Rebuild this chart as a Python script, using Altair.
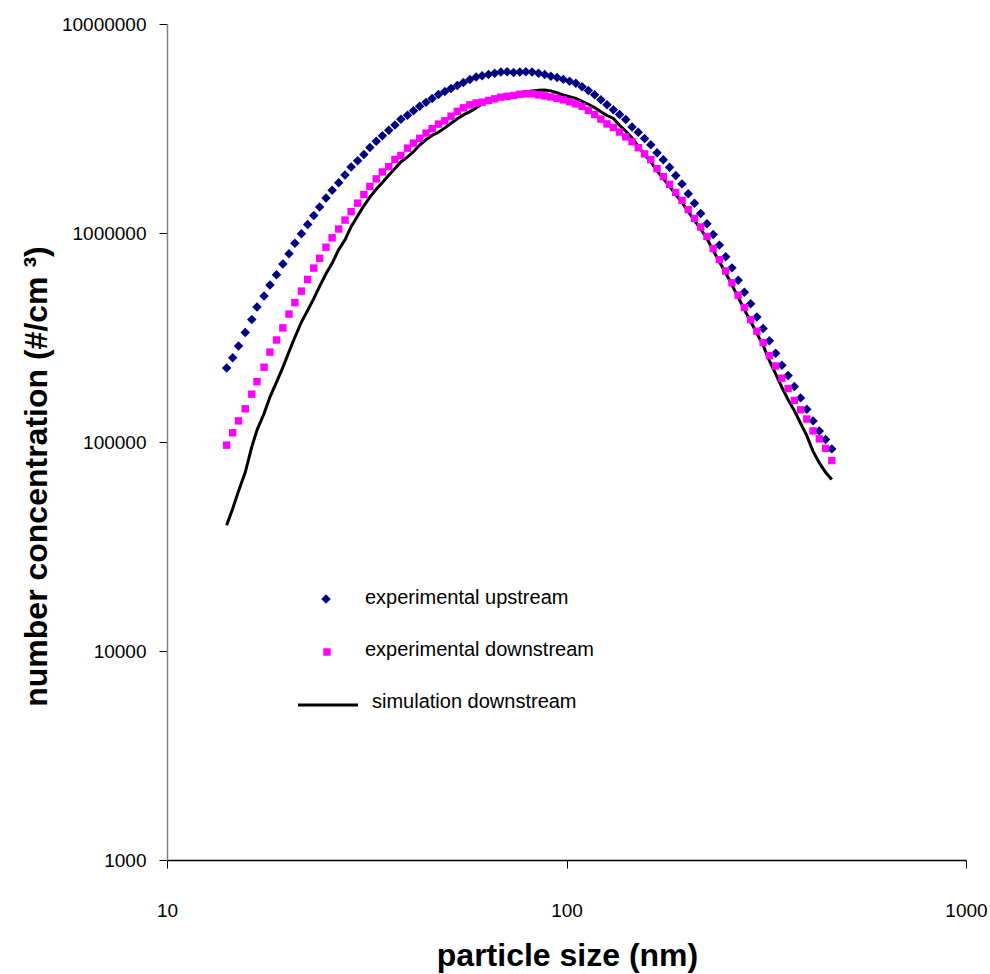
import altair as alt
import pandas as pd

# SMPS channel mid-point diameters (nm)
particle_size = [
    14.1, 14.6, 15.1, 15.7, 16.3, 16.8, 17.5, 18.1, 18.8, 19.5,
    20.2, 20.9, 21.7, 22.5, 23.3, 24.1, 25.0, 25.9, 26.9, 27.9,
    28.9, 30.0, 31.1, 32.2, 33.4, 34.6, 35.9, 37.2, 38.5, 40.0,
    41.4, 42.9, 44.5, 46.1, 47.8, 49.6, 51.4, 53.3, 55.2, 57.3,
    59.4, 61.5, 63.8, 66.1, 68.5, 71.0, 73.7, 76.4, 79.1, 82.0,
    85.1, 88.2, 91.4, 94.7, 98.2, 101.8, 105.5, 109.4, 113.4, 117.6,
    121.9, 126.3, 131.0, 135.8, 140.7, 145.9, 151.2, 156.8, 162.5, 168.5,
    174.7, 181.1, 187.7, 194.6, 201.7, 209.1, 216.7, 224.7, 232.9, 241.4,
    250.3, 259.5, 269.0, 278.8, 289.0, 299.6, 310.6, 322.0, 333.8, 346.0,
    358.7, 371.8, 385.4, 399.5, 414.2, 429.4, 445.1, 461.4,
]

# number concentration (#/cm3), experimental upstream
upstream = [
    226000, 253000, 288000, 334000, 386000, 443000, 499000, 564000, 632000, 711000,
    796000, 893000, 993000, 1099000, 1213000, 1330000, 1472000, 1600000, 1738000, 1897000,
    2070000, 2218000, 2377000, 2564000, 2748000, 2917000, 3105000, 3289000, 3499000, 3656000,
    3846000, 4036000, 4217000, 4406000, 4603000, 4753000, 4909000, 5082000, 5248000, 5420000,
    5572000, 5649000, 5728000, 5808000, 5888000, 5916000, 5861000, 5888000, 5916000, 5888000,
    5808000, 5728000, 5623000, 5546000, 5433000, 5321000, 5212000, 5012000, 4808000, 4581000,
    4345000, 4111000, 3890000, 3690000, 3491000, 3214000, 3034000, 2831000, 2642000, 2421000,
    2239000, 2061000, 1884000, 1718000, 1542000, 1387000, 1239000, 1107000, 984000, 875000,
    769000, 681000, 594000, 520000, 459000, 396000, 349000, 305000, 266000, 233000,
    208000, 184500, 162600, 143500, 126200, 113000, 102800, 92700,
]

# number concentration (#/cm3), experimental downstream
downstream = [
    96600, 110700, 126200, 144200, 169400, 194500, 228000, 269200, 307600, 351600,
    409300, 464500, 527200, 599800, 679200, 756800, 855100, 948400, 1045000, 1153000,
    1265000, 1390000, 1528000, 1671000, 1816000, 1959000, 2080000, 2249000, 2350000, 2547000,
    2692000, 2838000, 3006000, 3155000, 3319000, 3443000, 3622000, 3819000, 3972000, 4102000,
    4188000, 4227000, 4305000, 4385000, 4467000, 4508000, 4550000, 4613000, 4634000, 4634000,
    4581000, 4529000, 4477000, 4406000, 4335000, 4246000, 4150000, 4036000, 3864000, 3690000,
    3508000, 3327000, 3199000, 3041000, 2884000, 2735000, 2559000, 2393000, 2244000, 2032000,
    1862000, 1710000, 1563000, 1432000, 1294000, 1175000, 1069000, 962000, 843000, 746000,
    658000, 578000, 504000, 440000, 385000, 339000, 299000, 259000, 231000, 202000,
    180300, 158100, 142600, 128800, 113000, 103500, 93300, 81500,
]

# number concentration (#/cm3), simulation downstream
simulation = [
    40000, 47900, 58200, 71600, 94800, 114000, 136800, 164100, 193200, 227500,
    270400, 317000, 375000, 426600, 485300, 555900, 638300, 716100, 831800, 926800,
    1072000, 1205000, 1349000, 1486000, 1618000, 1746000, 1888000, 2037000, 2188000, 2312000,
    2449000, 2636000, 2793000, 2931000, 3034000, 3184000, 3350000, 3524000, 3673000, 3811000,
    3963000, 4150000, 4256000, 4375000, 4467000, 4550000, 4613000, 4677000, 4742000, 4786000,
    4819000, 4831000, 4786000, 4688000, 4571000, 4487000, 4406000, 4266000, 4130000, 3981000,
    3802000, 3648000, 3532000, 3273000, 3076000, 2851000, 2600000, 2371000, 2193000, 1986000,
    1820000, 1671000, 1528000, 1400000, 1265000, 1148000, 1045000, 940000, 824000, 729000,
    643000, 565000, 492000, 430000, 377000, 331000, 290000, 245000, 212000, 182800,
    159200, 141300, 123000, 107200, 90200, 79400, 71600, 66100,
]

series_names = ["experimental upstream", "experimental downstream", "simulation downstream"]
x_ticks = [10, 100, 1000]
y_ticks = [1000, 10000, 100000, 1000000, 10000000]

NAVY = "#000080"
MAGENTA = "#FF00FF"
FONT = "Liberation Sans"

df_up = pd.DataFrame({"size": particle_size, "value": upstream})
df_down = pd.DataFrame({"size": particle_size, "value": downstream})
df_sim = pd.DataFrame({"size": particle_size, "value": simulation})

x_scale = alt.Scale(type="log", domain=[10, 1000], nice=False)
y_scale = alt.Scale(type="log", domain=[1000, 10000000], nice=False)

x_axis = alt.Axis(
    values=x_ticks, format="d", grid=False, title="particle size (nm)",
    tickSize=8, tickColor="black", domainColor="black", domainWidth=1.5,
    labelFont=FONT, labelFontSize=19, labelColor="black", labelPadding=33,
    labelFlush=False,
    titleFont=FONT, titleFontSize=32, titleFontWeight="bold", titleColor="black",
    titleX=400, titleY=95, titleBaseline="middle", titleAlign="center",
)
y_axis = alt.Axis(
    values=y_ticks, format="d", grid=False, title="number concentration (#/cm ³)",
    tickSize=8, tickColor="black", domainColor="#808080", domainWidth=1.5,
    labelFont=FONT, labelFontSize=19, labelColor="black", labelPadding=13,
    labelFlush=False,
    titleFont=FONT, titleFontSize=32, titleFontWeight="bold", titleColor="black",
    titleX=-131, titleY=452, titleAngle=270, titleAlign="center", titleBaseline="middle",
)

sim_line = alt.Chart(df_sim).mark_line(color="black", strokeWidth=3).encode(
    x=alt.X("size:Q", scale=x_scale, axis=x_axis),
    y=alt.Y("value:Q", scale=y_scale, axis=y_axis),
)
up_pts = alt.Chart(df_up).mark_point(
    shape="diamond", filled=True, size=90, color=NAVY, opacity=1
).encode(x=alt.X("size:Q", scale=x_scale), y=alt.Y("value:Q", scale=y_scale))
down_pts = alt.Chart(df_down).mark_point(
    shape="square", filled=True, size=55, color=MAGENTA, opacity=1
).encode(x=alt.X("size:Q", scale=x_scale), y=alt.Y("value:Q", scale=y_scale))

# hand-made legend, placed inside the plot area (pixel layout)
one = pd.DataFrame({"label": series_names})
leg_font = dict(font=FONT, fontSize=20, color="black", align="left", baseline="middle")
leg_up_sym = alt.Chart(one.iloc[[0]]).mark_point(
    shape="diamond", filled=True, size=90, color=NAVY, opacity=1
).encode(x=alt.value(159), y=alt.value(575))
leg_up_txt = alt.Chart(one.iloc[[0]]).mark_text(**leg_font).encode(
    x=alt.value(198), y=alt.value(574), text="label:N")
leg_down_sym = alt.Chart(one.iloc[[1]]).mark_point(
    shape="square", filled=True, size=55, color=MAGENTA, opacity=1
).encode(x=alt.value(160), y=alt.value(628))
leg_down_txt = alt.Chart(one.iloc[[1]]).mark_text(**leg_font).encode(
    x=alt.value(198), y=alt.value(626), text="label:N")
leg_sim_sym = alt.Chart(one.iloc[[2]]).mark_rule(color="black", strokeWidth=3).encode(
    x=alt.value(131), x2=alt.value(191), y=alt.value(681))
leg_sim_txt = alt.Chart(one.iloc[[2]]).mark_text(**leg_font).encode(
    x=alt.value(205), y=alt.value(678), text="label:N")

chart = alt.layer(
    sim_line, up_pts, down_pts,
    leg_up_sym, leg_up_txt, leg_down_sym, leg_down_txt, leg_sim_sym, leg_sim_txt,
).properties(
    width=799, height=836,
    autosize=alt.AutoSizeParams(type="none"),
    padding={"left": 167, "top": 24, "right": 24, "bottom": 114},
    background="white",
).configure_view(strokeWidth=0)

chart.save("out.html", embed_options={"renderer": "svg", "actions": False})
